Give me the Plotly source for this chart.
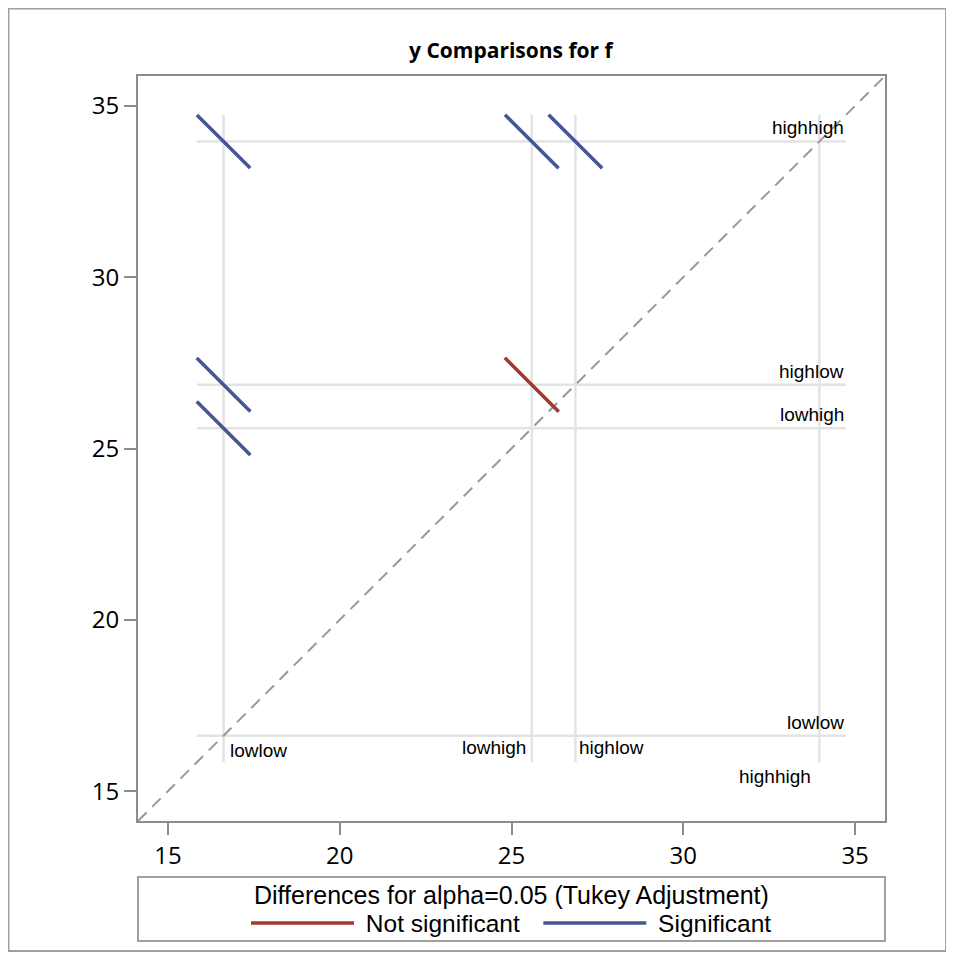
import plotly.graph_objects as go

# ---- data ----
levels = ["lowlow", "lowhigh", "highlow", "highhigh"]
means = [16.62, 25.59, 26.86, 33.96]

# pairs: (index on x axis, index on y axis)
pair_x = [0, 1, 2, 0, 0, 1]
pair_y = [3, 3, 3, 2, 1, 2]
half_width = [0.775, 0.78, 0.78, 0.78, 0.78, 0.785]
significant = [True, True, True, True, True, False]

x_ticks = [15, 20, 25, 30, 35]
y_ticks = [15, 20, 25, 30, 35]
axis_range = [14.13, 35.87]

title_text = "y Comparisons for f"
legend_title = "Differences for alpha=0.05 (Tukey Adjustment)"
legend_names = ["Not significant", "Significant"]

# ---- styles ----
BLUE = "#445694"
RED = "#A23A2E"
REF = "#e3e3e3"
FRAME = "#8c8c8c"
NB = "\u00a0"
LABEL_FONT = dict(family="Liberation Sans, Arial, sans-serif", size=19, color="#000000")
TICK_FONT = dict(family="Open Sans, sans-serif", size=24, color="#000000")
LEG_FONT = dict(family="Liberation Sans, Arial, sans-serif", size=25, color="#000000")
LEG_ITEM_FONT = dict(family="Liberation Sans, Arial, sans-serif", size=24.5, color="#000000")

fig = go.Figure()

lo = min(means) - min(half_width)
hi = max(means) + min(half_width)

# reference lines
for m in means:
    fig.add_trace(go.Scatter(x=[lo, hi], y=[m, m], mode="lines",
                             line=dict(color=REF, width=2.5),
                             showlegend=False, hoverinfo="skip"))
    fig.add_trace(go.Scatter(x=[m, m], y=[lo, hi], mode="lines",
                             line=dict(color=REF, width=2.5),
                             showlegend=False, hoverinfo="skip"))

# diagonal
fig.add_trace(go.Scatter(x=axis_range, y=axis_range, mode="lines",
                         line=dict(color="#999999", width=2, dash="12px,8px"),
                         showlegend=False, hoverinfo="skip"))

# difference segments
shown = {True: False, False: False}
for xi, yi, h, sig in zip(pair_x, pair_y, half_width, significant):
    cx, cy = means[xi], means[yi]
    name = legend_names[1] if sig else legend_names[0]
    disp = NB + name + (NB * 2 if not sig else "")
    fig.add_trace(go.Scatter(
        x=[cx - h, cx + h], y=[cy + h, cy - h], mode="lines",
        line=dict(color=BLUE if sig else RED, width=3.5),
        name=disp, legendgroup=name,
        showlegend=not shown[sig],
        legendrank=2 if sig else 1,
        hoverinfo="skip"))
    shown[sig] = True

# labels on the right (horizontal lines)
for lab, m in zip(levels, means):
    fig.add_annotation(x=hi, y=m, text=lab, showarrow=False,
                       xanchor="right", yanchor="bottom", yshift=1,
                       font=LABEL_FONT)

# labels at the bottom (vertical lines)
bottom_anchor = ["left", "right", "left", "right"]
bottom_xshift = [4, -4, 2, -6]
bottom_yshift = [12, 15, 15, -14]
for lab, m, xa, xs, ys in zip(levels, means, bottom_anchor, bottom_xshift, bottom_yshift):
    fig.add_annotation(x=m, y=lo, text=lab, showarrow=False,
                       xanchor=xa, yanchor="middle", xshift=xs, yshift=ys,
                       font=LABEL_FONT)

# title
fig.add_annotation(xref="paper", yref="paper", x=0.5, y=1.0, yshift=26,
                   text="<b>" + title_text + "</b>", showarrow=False,
                   xanchor="center", yanchor="middle",
                   font=dict(family="Open Sans, sans-serif", size=21, color="#000000"))

# legend box + title
fig.add_shape(type="rect", xref="paper", yref="paper",
              x0=0.0, x1=1.0, y0=-0.161, y1=-0.0752,
              line=dict(color="#a0a0a0", width=2), fillcolor="rgba(0,0,0,0)")
fig.add_annotation(xref="paper", yref="paper", x=0.5, y=-0.0989,
                   text=legend_title, showarrow=False,
                   xanchor="center", yanchor="middle", font=LEG_FONT)

# outer border
fig.add_shape(type="rect", xref="paper", yref="paper",
              x0=-0.1734, x1=1.0817, y0=-0.1745, y1=1.0906,
              line=dict(color="#a0a0a0", width=2), fillcolor="rgba(0,0,0,0)")

axis_common = dict(range=axis_range, showgrid=False, zeroline=False,
                   showline=True, linecolor=FRAME, linewidth=2, mirror=True,
                   ticks="outside", ticklen=12, tickwidth=2, tickcolor=FRAME,
                   tickfont=TICK_FONT)

fig.update_layout(
    width=954, height=960,
    margin=dict(l=130, r=77, t=68, b=147),
    paper_bgcolor="white", plot_bgcolor="white",
    xaxis=dict(tickvals=x_ticks, **axis_common),
    yaxis=dict(tickvals=y_ticks, **axis_common),
    legend=dict(orientation="h", x=0.5, xanchor="center",
                y=-0.1369, yanchor="middle", itemwidth=103,
                font=LEG_ITEM_FONT,
                bgcolor="rgba(0,0,0,0)", traceorder="normal"),
)

fig.write_html("out.html")
